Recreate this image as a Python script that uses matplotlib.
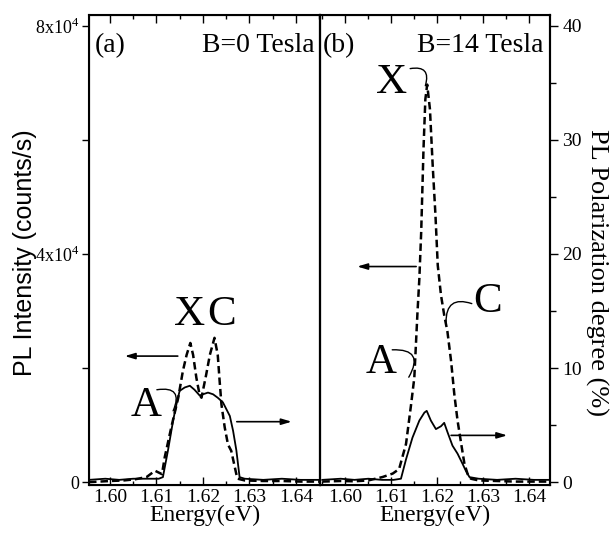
import matplotlib
matplotlib.use("Agg")
import matplotlib.pyplot as plt
from matplotlib.ticker import MultipleLocator, FixedLocator, FixedFormatter

plt.rcParams['font.family'] = ['Liberation Serif', 'DejaVu Serif']
plt.rcParams['mathtext.fontset'] = 'custom'
plt.rcParams['mathtext.rm'] = 'Liberation Serif'

# (a) B = 0 Tesla, PL intensity (counts/s), dashed
energy_a_pl = [1.5955, 1.600, 1.603, 1.6054, 1.6079, 1.6097, 1.6112, 1.6118, 1.6132, 1.6147,
               1.6157, 1.6165, 1.6173, 1.6179, 1.6186, 1.6193, 1.6197, 1.6207, 1.6215, 1.6225,
               1.6232, 1.6236, 1.6240, 1.6247, 1.6254, 1.6261, 1.6272, 1.6275, 1.629, 1.633,
               1.637, 1.641, 1.645]
intensity_a = [0, 200, 300, 500, 900, 2000, 1400, 4400, 9600, 14800,
               19500, 22300, 24400, 22300, 18300, 15300, 14800, 18800, 22300, 25300,
               22300, 17800, 13600, 9600, 6600, 5500, 1400, 600, 300, 200,
               200, 100, 100]

# (a) polarization degree (%), solid
energy_a_pol = [1.5955, 1.599, 1.602, 1.605, 1.608, 1.6105, 1.6114, 1.6125, 1.6136, 1.6143,
                1.615, 1.6161, 1.6172, 1.6182, 1.6193, 1.6200, 1.6211, 1.6222, 1.6232, 1.6243,
                1.6258, 1.6265, 1.6272, 1.6279, 1.629, 1.633, 1.637, 1.641, 1.645]
polar_a = [0.2, 0.3, 0.2, 0.3, 0.3, 0.3, 0.44, 2.8, 5.4, 6.8,
           8.0, 8.3, 8.45, 8.1, 7.6, 7.7, 7.85, 7.7, 7.4, 7.0,
           5.8, 4.5, 2.8, 0.44, 0.3, 0.2, 0.3, 0.2, 0.2]

# (b) B = 14 Tesla, PL intensity (counts/s), dashed
energy_b_pl = [1.595, 1.599, 1.602, 1.605, 1.6081, 1.6103, 1.6117, 1.6132, 1.6143, 1.615,
               1.6157, 1.6161, 1.6165, 1.617, 1.6174, 1.6178, 1.6184, 1.619, 1.6196, 1.6201,
               1.6208, 1.6215, 1.6222, 1.623, 1.6237, 1.6244, 1.6252, 1.6259, 1.6266, 1.6273,
               1.629, 1.633, 1.637, 1.641, 1.645]
intensity_b = [100, 200, 150, 300, 900, 1500, 2300, 6700, 13600, 18300,
               29900, 35700, 43900, 58400, 67100, 69700, 65400, 55500, 46800, 38000,
               32800, 29300, 26400, 21200, 15400, 10800, 6700, 3200, 1400, 600,
               300, 200, 100, 100, 100]

# (b) polarization degree (%), solid
energy_b_pol = [1.595, 1.599, 1.602, 1.605, 1.608, 1.6105, 1.6121, 1.6132, 1.6146, 1.6161,
                1.6172, 1.6177, 1.6186, 1.6197, 1.6208, 1.6215, 1.6222, 1.6233, 1.6244, 1.6255,
                1.6262, 1.627, 1.629, 1.633, 1.637, 1.641, 1.645]
polar_b = [0.2, 0.3, 0.2, 0.3, 0.2, 0.2, 0.3, 2.0, 3.9, 5.4,
           6.1, 6.25, 5.4, 4.65, 4.9, 5.2, 4.4, 3.2, 2.5, 1.6,
           1.0, 0.44, 0.3, 0.2, 0.3, 0.2, 0.2]

x_ticks = [1.60, 1.61, 1.62, 1.63, 1.64]
x_ticklabels = ['1.60', '1.61', '1.62', '1.63', '1.64']
int_ticks = [0, 40000, 80000]
int_ticklabels = ['0', '4x10$^4$', '8x10$^4$']
pol_ticks = [0, 10, 20, 30, 40]

W, H = 613, 543
fig = plt.figure(figsize=(W / 100, H / 100), dpi=100)
ax_a = fig.add_axes([89 / W, 58 / H, 231 / W, 470 / H])
ax_b = fig.add_axes([320 / W, 58 / H, 230 / W, 470 / H])

int_lim = (-500, 81900)
pol_lim = (-0.25, 40.95)
dash = (0, (3, 1.6))


def style_axes(ax, xlim):
    ax.set_xlim(*xlim)
    ax.set_ylim(*int_lim)
    ax.xaxis.set_major_locator(FixedLocator(x_ticks))
    ax.xaxis.set_major_formatter(FixedFormatter(x_ticklabels))
    ax.xaxis.set_minor_locator(MultipleLocator(0.005))
    ax.tick_params(axis='x', which='both', direction='in', top=True, labelsize=14, pad=3)
    ax.tick_params(axis='x', which='major', length=6, width=1)
    ax.tick_params(axis='x', which='minor', length=3, width=1)
    ax.set_xlabel('Energy(eV)', fontsize=17, labelpad=-1)
    for s in ax.spines.values():
        s.set_linewidth(1.5)


# panel (a)
style_axes(ax_a, (1.5955, 1.6452))
ax_a.plot(energy_a_pl, intensity_a, color='black', lw=1.8, linestyle=dash)
ax_a.yaxis.set_major_locator(FixedLocator(int_ticks))
ax_a.yaxis.set_major_formatter(FixedFormatter(int_ticklabels))
ax_a.yaxis.set_minor_locator(FixedLocator([20000, 60000]))
ax_a.tick_params(axis='y', which='both', direction='out', labelsize=13, length=5, width=1, pad=2)
ax_a2 = ax_a.twinx()
ax_a2.set_ylim(*pol_lim)
ax_a2.plot(energy_a_pol, polar_a, color='black', lw=1.3)
ax_a2.set_yticks([])
ax_a2.spines['right'].set_linewidth(1.5)

# panel (b)
style_axes(ax_b, (1.5945, 1.6445))
ax_b.plot(energy_b_pl, intensity_b, color='black', lw=1.8, linestyle=dash)
ax_b.set_yticks([])
ax_b2 = ax_b.twinx()
ax_b2.set_ylim(*pol_lim)
ax_b2.plot(energy_b_pol, polar_b, color='black', lw=1.3)
ax_b2.yaxis.set_major_locator(FixedLocator(pol_ticks))
ax_b2.yaxis.set_minor_locator(MultipleLocator(5))
ax_b2.tick_params(axis='y', which='major', direction='out', length=6, width=1, labelsize=14, pad=3)
ax_b2.tick_params(axis='y', which='minor', direction='out', length=4, width=1)
ax_b2.spines['right'].set_linewidth(1.5)

# axis titles
fig.text(25 / W, 1 - 253 / H, 'PL Intensity (counts/s)', rotation=90, ha='center', va='center',
         fontsize=18, family=['Liberation Sans', 'DejaVu Sans'])
fig.text(597 / W, 1 - 272 / H, 'PL Polarization degree (%)', rotation=-90, ha='center',
         va='center', fontsize=19)

# panel labels
ax_a.text(0.025, 0.935, '(a)', transform=ax_a.transAxes, fontsize=20, va='center', ha='left')
ax_a.text(0.975, 0.935, 'B=0 Tesla', transform=ax_a.transAxes, fontsize=20, va='center', ha='right')
ax_b.text(0.012, 0.935, '(b)', transform=ax_b.transAxes, fontsize=20, va='center', ha='left')
ax_b.text(0.97, 0.935, 'B=14 Tesla', transform=ax_b.transAxes, fontsize=20, va='center', ha='right')

# peak letters
peak_font = dict(fontsize=31, ha='center', va='center')
ax_a.text(1.6172, 29300, 'X', **peak_font)
ax_a.text(1.6240, 29300, 'C', **peak_font)
ax_a.text(1.6077, 13400, 'A', **peak_font)
ax_b.text(1.6100, 70000, 'X', **peak_font)
ax_b.text(1.6309, 31700, 'C', **peak_font)
ax_b.text(1.6078, 20900, 'A', **peak_font)

hook = dict(arrowstyle='-', lw=1.0, color='black', shrinkA=0, shrinkB=0)
ax_a.annotate('', xy=(1.6136, 12500), xytext=(1.6101, 16200),
              arrowprops=dict(hook, connectionstyle='arc3,rad=-0.9'))
ax_b.annotate('', xy=(1.6174, 69500), xytext=(1.6141, 72500),
              arrowprops=dict(hook, connectionstyle='arc3,rad=-0.8'))
ax_b.annotate('', xy=(1.6219, 28000), xytext=(1.6275, 31300),
              arrowprops=dict(hook, connectionstyle='arc3,rad=0.7'))
ax_b.annotate('', xy=(1.6138, 18400), xytext=(1.6102, 23200),
              arrowprops=dict(hook, connectionstyle='arc3,rad=-0.9'))

# arrows pointing to the axis each curve belongs to
arr = dict(arrowstyle='-|>,head_length=0.6,head_width=0.18', lw=1.2, color='black',
           shrinkA=0, shrinkB=0)
ax_a.annotate('', xy=(1.6032, 22100), xytext=(1.6146, 22100), arrowprops=arr)
ax_a2.annotate('', xy=(1.6391, 5.3), xytext=(1.6273, 5.3), arrowprops=arr)
ax_b.annotate('', xy=(1.6026, 37800), xytext=(1.6154, 37800), arrowprops=arr)
ax_b2.annotate('', xy=(1.6352, 4.1), xytext=(1.6230, 4.1), arrowprops=arr)

fig.savefig('out.png', dpi=100, facecolor='white')
